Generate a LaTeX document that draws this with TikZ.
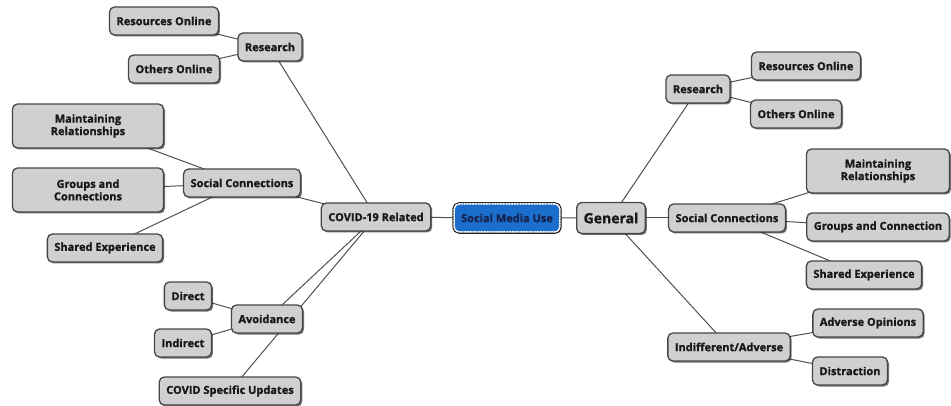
\documentclass[tikz,border=0pt]{standalone}
\usepackage{fontspec}
\setmainfont{Open Sans}[BoldFeatures={FakeBold=1.2}]
\usetikzlibrary{shadows,backgrounds}
\definecolor{boxgray}{RGB}{208,208,208}
\definecolor{boxline}{RGB}{70,70,70}
\definecolor{hubblue}{RGB}{28,110,205}
\definecolor{hubtext}{RGB}{20,35,80}
\definecolor{linkgray}{RGB}{80,80,80}
\begin{document}
\begin{tikzpicture}[x=1pt,y=-1pt,line join=round,line cap=round,
  topic/.style={draw=boxline,line width=1.3pt,fill=boxgray,rounded corners=5pt,
    font=\bfseries\fontsize{11}{12.5}\selectfont,text=black!90,inner xsep=7pt,
    minimum height=28pt,
    drop shadow={shadow xshift=1.5pt,shadow yshift=-1.5pt,fill=black,opacity=0.55}},
  twoline/.style={topic,align=center,minimum height=44pt},
  hub/.style={topic,fill=hubblue,text=hubtext,draw=white,line width=1.5pt,
    dash pattern=on 1.5pt off 1.3pt,preaction={draw=black!85,line width=3.6pt,solid}},
  link/.style={draw=linkgray,line width=1pt}]
\useasboundingbox (0,0) rectangle (951,406);
% centre
\node[hub] (smu) at (507,218) {Social Media Use};
\node[topic] (covid) at (376,217) {COVID-19 Related};
\node[topic,font=\bfseries\fontsize{14}{16}\selectfont,minimum height=31pt] (general) at (611,218) {General};
% covid side
\node[topic] (lres) at (270,47) {Research};
\node[topic] (lresonl) at (164,21) {Resources Online};
\node[topic] (lothers) at (174,69) {Others Online};
\node[topic] (lsoc) at (242,183) {Social Connections};
\node[twoline,minimum width=151pt] (lmaint) at (88,126) {Maintaining\\Relationships};
\node[twoline,minimum width=151pt] (lgroups) at (88,190) {Groups and\\Connections};
\node[topic] (lshared) at (105,248) {Shared Experience};
\node[topic] (avoid) at (267,319) {Avoidance};
\node[topic] (direct) at (188,296) {Direct};
\node[topic] (indirect) at (183,343) {Indirect};
\node[topic] (cupd) at (230,391) {COVID Specific Updates};
% general side
\node[topic] (rres) at (698,89) {Research};
\node[topic] (rresonl) at (806,66) {Resources Online};
\node[topic] (rothers) at (796,114) {Others Online};
\node[topic] (rsoc) at (727,218) {Social Connections};
\node[twoline,minimum width=143pt] (rmaint) at (878,171) {Maintaining\\Relationships};
\node[topic] (rgroups) at (878,227) {Groups and Connection};
\node[topic] (rshared) at (864,275) {Shared Experience};
\node[topic] (indiff) at (729,347) {Indifferent/Adverse};
\node[topic] (adverse) at (868,323) {Adverse Opinions};
\node[topic] (distract) at (850,371) {Distraction};
% connectors
\begin{scope}[on background layer]
\draw[link] (covid.center) -- (smu.center) -- (general.center);
\draw[link] (covid.center) -- (lres.center);
\draw[link] (lres.center) -- (lresonl.center);
\draw[link] (lres.center) -- (lothers.center);
\draw[link] (covid.center) -- (lsoc.center);
\draw[link] (lsoc.center) -- (lmaint.center);
\draw[link] (lsoc.center) -- (lgroups.center);
\draw[link] (lsoc.center) -- (lshared.center);
\draw[link] (covid.center) -- (avoid.center);
\draw[link] (avoid.center) -- (direct.center);
\draw[link] (avoid.center) -- (indirect.center);
\draw[link] (covid.center) -- (cupd.center);
\draw[link] (general.center) -- (rres.center);
\draw[link] (rres.center) -- (rresonl.center);
\draw[link] (rres.center) -- (rothers.center);
\draw[link] (general.center) -- (rsoc.center);
\draw[link] (rsoc.center) -- (rmaint.center);
\draw[link] (rsoc.center) -- (rgroups.center);
\draw[link] (rsoc.center) -- (rshared.center);
\draw[link] (general.center) -- (indiff.center);
\draw[link] (indiff.center) -- (adverse.center);
\draw[link] (indiff.center) -- (distract.center);
\end{scope}
\end{tikzpicture}
\end{document}
